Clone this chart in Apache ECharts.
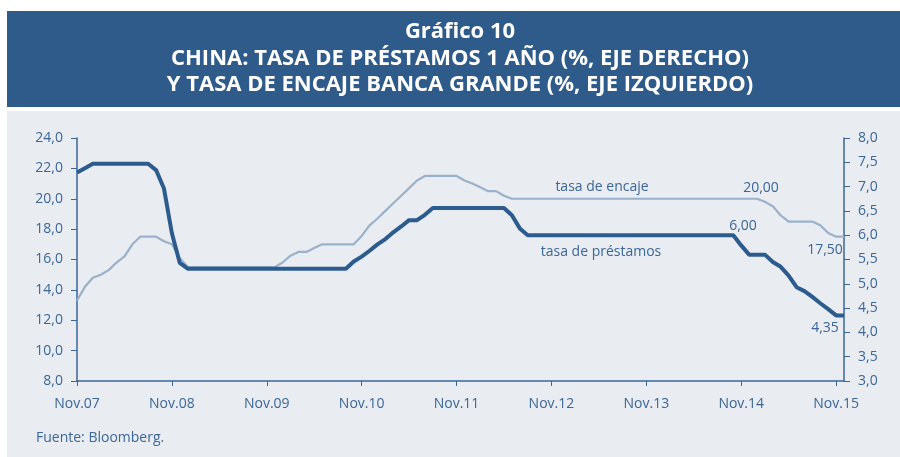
<!DOCTYPE html>
<html>
<head>
<meta charset="utf-8">
<script src="https://cdn.jsdelivr.net/npm/echarts@6/dist/echarts.min.js"></script>
<style>
  body { margin: 0; background: #fff; }
  #grafico { width: 900px; height: 457px; }
</style>
</head>
<body>
<div id="grafico"></div>
<script>
// meses, nov.07 a dic.15 (un punto por mes)
var anios = ['07', '08', '09', '10', '11', '12', '13', '14', '15'];
var mesesCorto = ['Ene', 'Feb', 'Mar', 'Abr', 'May', 'Jun', 'Jul', 'Ago', 'Sep', 'Oct', 'Nov', 'Dic'];
var ticksIzq = [8, 10, 12, 14, 16, 18, 20, 22, 24];
var ticksDer = [3.0, 3.5, 4.0, 4.5, 5.0, 5.5, 6.0, 6.5, 7.0, 7.5, 8.0];

// tasa de encaje banca grande (%, eje izquierdo)
var encaje = [
  13.3, 14.2, 14.8, 15.0, 15.3, 15.8, 16.2, 17.0, 17.5, 17.5,
  17.5, 17.2, 17.0, 16.1, 15.5, 15.5, 15.5, 15.5, 15.5, 15.5,
  15.5, 15.5, 15.5, 15.5, 15.5, 15.5, 15.8, 16.25, 16.5, 16.5,
  16.75, 17.0, 17.0, 17.0, 17.0, 17.0, 17.55, 18.25, 18.7, 19.2,
  19.7, 20.2, 20.7, 21.2, 21.5, 21.5, 21.5, 21.5, 21.5, 21.2,
  21.0, 20.75, 20.5, 20.5, 20.2, 20.0, 20.0, 20.0, 20.0, 20.0,
  20.0, 20.0, 20.0, 20.0, 20.0, 20.0, 20.0, 20.0, 20.0, 20.0,
  20.0, 20.0, 20.0, 20.0, 20.0, 20.0, 20.0, 20.0, 20.0, 20.0,
  20.0, 20.0, 20.0, 20.0, 20.0, 20.0, 20.0, 19.8, 19.5, 18.9,
  18.5, 18.5, 18.5, 18.5, 18.25, 17.75, 17.5, 17.5
];

// tasa de prestamos 1 año (%, eje derecho)
var prestamos = [
  7.29, 7.38, 7.47, 7.47, 7.47, 7.47, 7.47, 7.47, 7.47, 7.47,
  7.34, 6.96, 6.04, 5.43, 5.31, 5.31, 5.31, 5.31, 5.31, 5.31,
  5.31, 5.31, 5.31, 5.31, 5.31, 5.31, 5.31, 5.31, 5.31, 5.31,
  5.31, 5.31, 5.31, 5.31, 5.31, 5.46, 5.56, 5.68, 5.81, 5.92,
  6.06, 6.18, 6.31, 6.31, 6.42, 6.56, 6.56, 6.56, 6.56, 6.56,
  6.56, 6.56, 6.56, 6.56, 6.56, 6.41, 6.14, 6.0, 6.0, 6.0,
  6.0, 6.0, 6.0, 6.0, 6.0, 6.0, 6.0, 6.0, 6.0, 6.0,
  6.0, 6.0, 6.0, 6.0, 6.0, 6.0, 6.0, 6.0, 6.0, 6.0,
  6.0, 6.0, 6.0, 6.0, 5.79, 5.6, 5.6, 5.6, 5.45, 5.35,
  5.17, 4.93, 4.85, 4.73, 4.6, 4.48, 4.35, 4.35
];

var meses = [];
for (var a = 0; a < anios.length; a++) {
  for (var m = 0; m < 12; m++) {
    if (a == 0 && m < 10) continue;
    meses.push(mesesCorto[m] + '.' + anios[a]);
  }
}

var azul = '#3A6797';
var coma = function(v) { return v.toFixed(1).replace('.', ','); };
var titulo = 'bold 22px "Open Sans"';
var nota = '14px "Open Sans"';

var chart = echarts.init(document.getElementById('grafico'));
var option = {
  backgroundColor: '#ffffff',
  animation: false,
  textStyle: { fontFamily: 'Open Sans' },
  graphic: [
    { type: 'rect', z: -10, shape: { x: 7, y: 11, width: 893, height: 96 }, style: { fill: '#2E5B8A' } },
    { type: 'rect', z: -10, shape: { x: 7, y: 111, width: 893, height: 346 }, style: { fill: '#E9ECF1' } },
    { type: 'text', x: 460, y: 32, style: { text: 'Gráfico 10', fill: '#fff', font: titulo, align: 'center', verticalAlign: 'middle' } },
    { type: 'text', x: 460, y: 59, style: { text: 'CHINA: TASA DE PRÉSTAMOS 1 AÑO (%, EJE DERECHO)', fill: '#fff', font: titulo, align: 'center', verticalAlign: 'middle' } },
    { type: 'text', x: 460, y: 85, style: { text: 'Y TASA DE ENCAJE BANCA GRANDE (%, EJE IZQUIERDO)', fill: '#fff', font: titulo, align: 'center', verticalAlign: 'middle' } },
    { type: 'text', x: 36, y: 438, style: { text: 'Fuente: Bloomberg.', fill: azul, font: nota, verticalAlign: 'middle' } },
    { type: 'text', x: 602, y: 187, style: { text: 'tasa de encaje', fill: azul, font: nota, align: 'center', verticalAlign: 'middle' } },
    { type: 'text', x: 601, y: 252, style: { text: 'tasa de préstamos', fill: azul, font: nota, align: 'center', verticalAlign: 'middle' } },
    { type: 'text', x: 761, y: 188, style: { text: '20,00', fill: azul, font: nota, align: 'center', verticalAlign: 'middle' } },
    { type: 'text', x: 743, y: 226, style: { text: '6,00', fill: azul, font: nota, align: 'center', verticalAlign: 'middle' } },
    { type: 'text', x: 825, y: 250, style: { text: '17,50', fill: azul, font: nota, align: 'center', verticalAlign: 'middle' } },
    { type: 'text', x: 825, y: 328, style: { text: '4,35', fill: azul, font: nota, align: 'center', verticalAlign: 'middle' } }
  ],
  grid: { left: 77, right: 56, top: 138, bottom: 76 },
  xAxis: {
    type: 'category',
    data: meses,
    boundaryGap: false,
    axisLine: { lineStyle: { color: azul, width: 1.5 } },
    axisTick: { interval: 11, length: 5, lineStyle: { color: azul } },
    axisLabel: { interval: 11, color: azul, fontSize: 14, margin: 16 }
  },
  yAxis: [
    {
      type: 'value', min: ticksIzq[0], max: ticksIzq[ticksIzq.length - 1], interval: 2,
      axisLine: { show: true, lineStyle: { color: azul, width: 1.5 } },
      axisTick: { show: true, length: 6, lineStyle: { color: azul } },
      axisLabel: { color: azul, fontSize: 14, margin: 14, formatter: coma },
      splitLine: { show: false }
    },
    {
      type: 'value', min: ticksDer[0], max: ticksDer[ticksDer.length - 1], interval: 0.5,
      position: 'right',
      axisLine: { show: true, lineStyle: { color: azul, width: 1.5 } },
      axisTick: { show: true, length: 6, lineStyle: { color: azul } },
      axisLabel: { color: azul, fontSize: 14, margin: 14, formatter: coma },
      splitLine: { show: false }
    }
  ],
  series: [
    {
      name: 'tasa de encaje', type: 'line', yAxisIndex: 0, data: encaje,
      showSymbol: false, lineStyle: { color: '#9AB1CB', width: 2.2 }, z: 2
    },
    {
      name: 'tasa de préstamos', type: 'line', yAxisIndex: 1, data: prestamos,
      showSymbol: false, lineStyle: { color: '#2C5B8E', width: 4 }, z: 3
    }
  ]
};
chart.setOption(option);
</script>
</body>
</html>
